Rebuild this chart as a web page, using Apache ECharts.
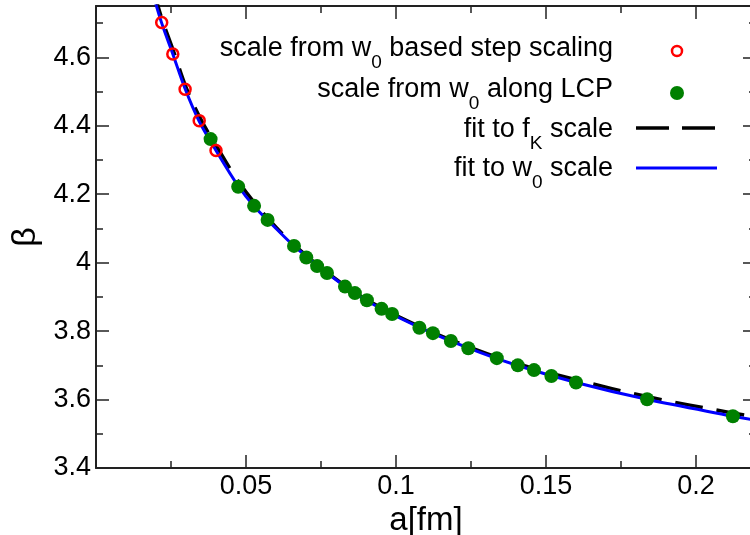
<!DOCTYPE html>
<html>
<head>
<meta charset="utf-8">
<script src="https://cdn.jsdelivr.net/npm/echarts@6/dist/echarts.min.js"></script>
<style>
html,body{margin:0;padding:0;background:#fff;}
#chart{width:750px;height:535px;}
</style>
</head>
<body>
<div id="chart"></div>
<script>
// ---- data ----
var stepScalingA    = [0.0219, 0.0256, 0.0297, 0.0344, 0.0400];
var stepScalingBeta = [4.702, 4.610, 4.507, 4.415, 4.328];

var lcpA    = [0.0382, 0.0474, 0.0527, 0.0572, 0.0660, 0.0701, 0.0737, 0.0770, 0.0830, 0.0863, 0.0903, 0.0952,
               0.0987, 0.1078, 0.1123, 0.1183, 0.1241, 0.1336, 0.1406, 0.1460, 0.1518, 0.1600, 0.1837, 0.2123];
var lcpBeta = [4.361, 4.222, 4.166, 4.125, 4.049, 4.015, 3.990, 3.970, 3.930, 3.911, 3.890, 3.865,
               3.850, 3.810, 3.794, 3.771, 3.750, 3.721, 3.700, 3.686, 3.669, 3.650, 3.601, 3.551];

var fitFkA    = [0.0190, 0.0220, 0.0260, 0.0300, 0.0350, 0.0400, 0.0470, 0.0530, 0.0600, 0.0660, 0.0770,
                 0.0900, 0.1080, 0.1240, 0.1400, 0.1600, 0.1840, 0.2120, 0.2200];
var fitFkBeta = [4.800, 4.712, 4.614, 4.513, 4.418, 4.343, 4.243, 4.173, 4.104, 4.052, 3.972,
                 3.893, 3.813, 3.755, 3.706, 3.658, 3.608, 3.561, 3.549];

var fitW0A    = [0.0190, 0.0219, 0.0256, 0.0297, 0.0344, 0.0400, 0.0474, 0.0527, 0.0600, 0.0660, 0.0770,
                 0.0900, 0.1080, 0.1240, 0.1400, 0.1600, 0.1840, 0.2120, 0.2200];
var fitW0Beta = [4.785, 4.700, 4.610, 4.508, 4.413, 4.328, 4.224, 4.165, 4.100, 4.049, 3.970,
                 3.890, 3.810, 3.751, 3.701, 3.650, 3.600, 3.552, 3.539];

var xTickLabels = ['0.05', '0.1', '0.15', '0.2'];
var yTickLabels = ['3.4', '3.6', '3.8', '4', '4.2', '4.4', '4.6'];

var xName = 'a[fm]';
var yName = 'β';
var legendRows = [
  {text: 'scale from w{sub|0} based step scaling'},
  {text: 'scale from w{sub|0} along LCP'},
  {text: 'fit to f{sub|K} scale'},
  {text: 'fit to w{sub|0} scale'}
];

function zip(a, b) { return a.map(function (v, i) { return [v, b[i]]; }); }
function fmtLabel(list) {
  return function (v) {
    var s = String(+v.toFixed(4));
    return list.indexOf(s) >= 0 ? s : '';
  };
}

var FONT = 'Liberation Sans, Arial, Helvetica, sans-serif';
var AX = '#222';
var tickCommon = {show: true, inside: true, length: 13, lineStyle: {color: AX, width: 1.5}};
var minorCommon = {show: true, splitNumber: 2, length: 7, lineStyle: {color: AX, width: 1.5}};

var chart = echarts.init(document.getElementById('chart'), null, {renderer: 'canvas'});

var richSub = {fontFamily: FONT, fontSize: 19, color: '#000', lineHeight: 19, verticalAlign: 'bottom'};

var legendTextX = 613;
var legendY = [49, 90, 130, 169];
var graphics = [];
legendRows.forEach(function (r, i) {
  graphics.push({
    type: 'text', x: legendTextX, y: legendY[i], z: 100,
    style: {
      text: r.text, x: 0, y: 0, align: 'right', verticalAlign: 'middle',
      fontFamily: FONT, fontSize: 27, fill: '#000', lineHeight: 46,
      rich: {sub: richSub}
    }
  });
});
graphics.push({type: 'circle', z: 100, shape: {cx: 677, cy: legendY[0] + 2, r: 5},
  style: {fill: 'none', stroke: '#ff0000', lineWidth: 2.5}});
graphics.push({type: 'circle', z: 100, shape: {cx: 677, cy: legendY[1] + 3, r: 7},
  style: {fill: '#008000'}});
graphics.push({type: 'line', z: 100, shape: {x1: 636, y1: legendY[2] - 2, x2: 717, y2: legendY[2] - 2},
  style: {stroke: '#000', lineWidth: 3.5, lineDash: [33, 13]}});
graphics.push({type: 'line', z: 100, shape: {x1: 636, y1: legendY[3] - 1, x2: 717, y2: legendY[3] - 1},
  style: {stroke: '#0000ff', lineWidth: 3}});

var option = {
  animation: false,
  backgroundColor: '#fff',
  grid: {left: 96, right: -6, top: 6, bottom: 67, containLabel: false, outerBoundsMode: 'none'},
  xAxis: [{
    type: 'value', min: 0, max: 0.22, interval: 0.05, position: 'bottom',
    name: xName, nameLocation: 'middle', nameGap: 23,
    nameTextStyle: {fontFamily: FONT, fontSize: 33, color: '#000'},
    axisLine: {show: true, onZero: false, lineStyle: {color: AX, width: 2}},
    axisTick: tickCommon, minorTick: minorCommon,
    splitLine: {show: false},
    axisLabel: {show: true, margin: 5, fontFamily: FONT, fontSize: 27, color: '#000',
      formatter: fmtLabel(xTickLabels)}
  }, {
    type: 'value', min: 0, max: 0.22, interval: 0.05, position: 'top',
    axisLine: {show: true, onZero: false, lineStyle: {color: AX, width: 2}},
    axisTick: tickCommon, minorTick: minorCommon,
    splitLine: {show: false}, axisLabel: {show: false}
  }],
  yAxis: [{
    type: 'value', min: 3.4, max: 4.75, interval: 0.2, position: 'left',
    name: yName, nameLocation: 'middle', nameGap: 50, nameRotate: 90,
    nameTextStyle: {fontFamily: FONT, fontSize: 34, color: '#000'},
    axisLine: {show: true, onZero: false, lineStyle: {color: AX, width: 2}},
    axisTick: tickCommon, minorTick: minorCommon,
    splitLine: {show: false},
    axisLabel: {show: true, margin: 5, fontFamily: FONT, fontSize: 27, color: '#000',
      formatter: fmtLabel(yTickLabels)}
  }, {
    type: 'value', min: 3.4, max: 4.75, interval: 0.2, position: 'right',
    axisLine: {show: true, onZero: false, lineStyle: {color: AX, width: 2}},
    axisTick: tickCommon, minorTick: minorCommon,
    splitLine: {show: false}, axisLabel: {show: false}
  }],
  series: [{
    name: 'fit to fK scale', type: 'line', data: zip(fitFkA, fitFkBeta),
    smooth: 0.35, showSymbol: false, symbol: 'none', clip: true, z: 2,
    lineStyle: {color: '#000', width: 3.5, type: [28, 14]}
  }, {
    name: 'fit to w0 scale', type: 'line', data: zip(fitW0A, fitW0Beta),
    smooth: 0.35, showSymbol: false, symbol: 'none', clip: true, z: 3,
    lineStyle: {color: '#0000ff', width: 3}
  }, {
    name: 'scale from w0 along LCP', type: 'scatter', data: zip(lcpA, lcpBeta),
    symbol: 'circle', symbolSize: 14, z: 4,
    itemStyle: {color: '#008000', opacity: 1}
  }, {
    name: 'scale from w0 based step scaling', type: 'scatter', data: zip(stepScalingA, stepScalingBeta),
    symbol: 'circle', symbolSize: 11, z: 5,
    itemStyle: {color: 'rgba(0,0,0,0)', borderColor: '#ff0000', borderWidth: 2.5, opacity: 1}
  }],
  graphic: graphics
};
chart.setOption(option);
</script>
</body>
</html>
